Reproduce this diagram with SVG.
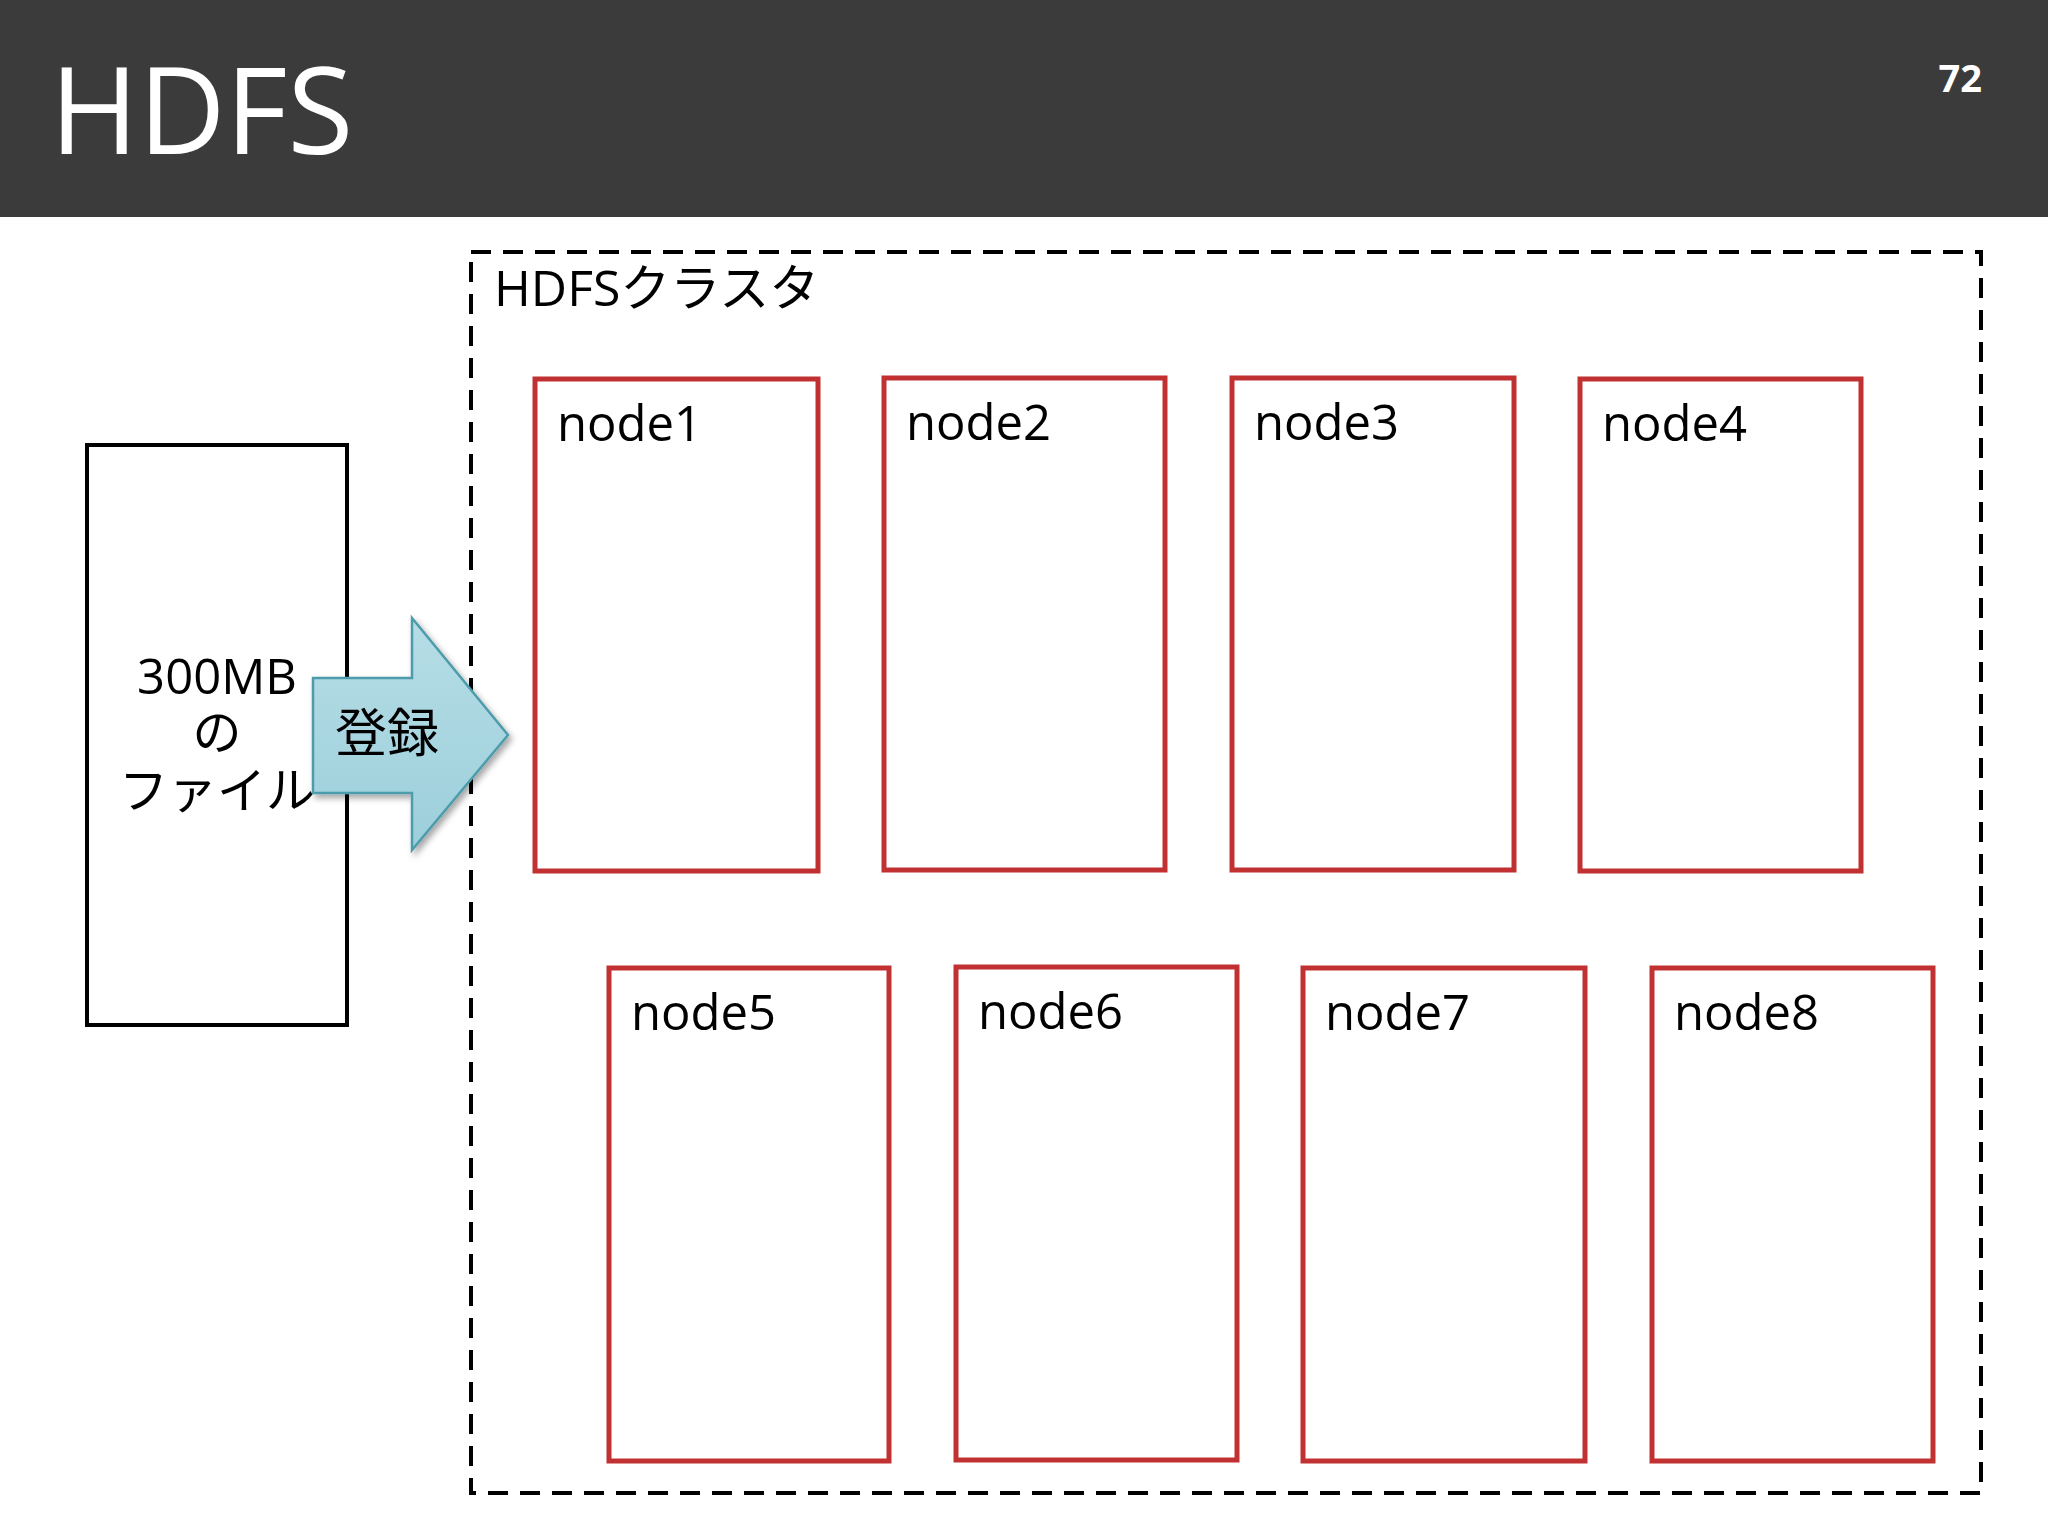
<svg xmlns="http://www.w3.org/2000/svg" width="2048" height="1536" viewBox="0 0 2048 1536">
<defs>
<style>
.t{font-family:"Open Sans","Noto Sans CJK JP",sans-serif;fill:#000}
.n rect{fill:#fff;stroke:#c23132;stroke-width:5}
.n text{font-family:"Open Sans",sans-serif;font-size:49px;fill:#000}
</style>
<linearGradient id="g" x1="0" y1="0" x2="0" y2="1"><stop offset="0" stop-color="#b6dde6"/><stop offset="1" stop-color="#9ccfdb"/></linearGradient>
<filter id="sh"><feDropShadow dx="3" dy="4" stdDeviation="3" flood-opacity="0.35"/></filter>
</defs>
<rect width="2048" height="1536" fill="#fff"/>
<rect width="2048" height="217" fill="#3b3b3b"/>
<text x="50" y="154" font-family="Open Sans,sans-serif" font-size="120" fill="#fff">HDFS</text>
<text x="1982" y="92" text-anchor="end" font-family="Open Sans,sans-serif" font-weight="bold" font-size="38" fill="#fff">72</text>
<g id="cluster">
<rect x="471" y="252" width="1510" height="1241" fill="none" stroke="#000" stroke-width="4" stroke-dasharray="20,12"/>
<text class="t" x="494" y="306" font-size="50">HDFSクラスタ</text>
</g>
<g id="file">
<rect x="87" y="445" width="260" height="580" fill="#fff" stroke="#000" stroke-width="4"/>
<text class="t" x="217" y="694" font-size="49" text-anchor="middle">300MB</text>
<text class="t" x="217" y="750" font-size="49" text-anchor="middle">の</text>
<text class="t" x="217" y="808" font-size="49" text-anchor="middle">ファイル</text>
</g>
<g class="n" id="node1"><rect x="535" y="379" width="283" height="492"/><text x="557" y="441">node1</text></g>
<g class="n" id="node2"><rect x="884" y="378" width="281" height="492"/><text x="906" y="440">node2</text></g>
<g class="n" id="node3"><rect x="1232" y="378" width="282" height="492"/><text x="1254" y="440">node3</text></g>
<g class="n" id="node4"><rect x="1580" y="379" width="281" height="492"/><text x="1602" y="441">node4</text></g>
<g class="n" id="node5"><rect x="609" y="968" width="280" height="493"/><text x="631" y="1030">node5</text></g>
<g class="n" id="node6"><rect x="956" y="967" width="281" height="493"/><text x="978" y="1029">node6</text></g>
<g class="n" id="node7"><rect x="1303" y="968" width="282" height="493"/><text x="1325" y="1030">node7</text></g>
<g class="n" id="node8"><rect x="1652" y="968" width="281" height="493"/><text x="1674" y="1030">node8</text></g>
<g id="connectors">
<path d="M313,678 H412 V618 L508,735 L412,850 V793 H313 Z" fill="url(#g)" stroke="#4e9cab" stroke-width="2.5" filter="url(#sh)"/>
<text class="t" x="387" y="752" font-size="52" text-anchor="middle">登録</text>
</g>
</svg>
